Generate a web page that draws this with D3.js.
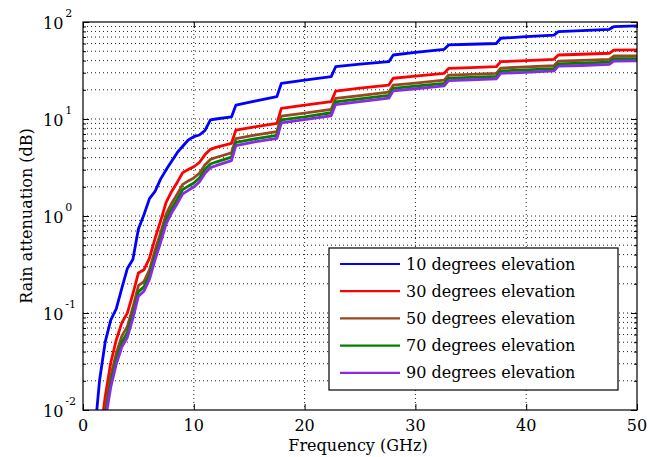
<!DOCTYPE html>
<html><head><meta charset="utf-8">
<script src="https://cdn.jsdelivr.net/npm/d3@7"></script>
<style>body{margin:0;background:#fff}</style>
</head><body>
<svg id="c" width="672" height="457"></svg>
<script>
// Frequency grid (GHz)
const freqs = [1.0,1.5,2.0,2.5,3.0,3.5,4.0,4.5,5.0,5.5,6.0,6.5,7.0,7.5,8.0,8.5,9.0,9.5,10.0,10.5,11.0,11.5,12.0,13.4,13.8,15.5,17.5,17.9,20,22.4,22.8,25,27.6,28.0,30,32.6,33.0,35,37.3,37.7,40,42.5,42.9,45,47.5,47.9,50];
// Rain attenuation (dB) per elevation angle
const elev10 = [0.005,0.0204,0.050,0.0845,0.110,0.179,0.287,0.356,0.736,1.03,1.51,1.79,2.4,2.99,3.67,4.5,5.24,6.08,6.58,6.84,7.6,9.8,10.0,10.5,13.9,15.3,17.0,23.3,25.2,27.3,34.6,36.8,39.0,45.7,48.5,52.3,58,59,60,68,70.5,73.4,79.4,81.5,84.1,89.5,91];
const elev30 = [0.002,0.005,0.0136,0.0305,0.0527,0.079,0.0996,0.157,0.259,0.279,0.368,0.586,0.885,1.38,1.79,2.22,2.80,3.01,3.22,3.56,4.27,4.87,5.10,5.62,7.70,8.3,9.03,12.9,13.9,15.1,19.4,20.8,22.4,26.3,27.7,29.6,33.3,33.9,34.6,39.0,40.0,41.2,45.7,46.5,47.6,51.4,51.6];
const elev50 = [0.0014,0.0036,0.0099,0.0222,0.0384,0.0577,0.0724,0.114,0.191,0.211,0.279,0.444,0.67,1.045,1.355,1.68,2.12,2.30,2.47,2.76,3.35,3.83,4.01,4.48,6.28,6.82,7.43,10.7,11.5,12.6,16.3,17.4,18.9,22.3,23.4,25.1,28.4,28.9,29.5,33.5,34.4,35.4,39.5,40.2,41.2,44.6,44.8];
const elev70 = [0.0013,0.0032,0.0086,0.0192,0.0333,0.050,0.0628,0.0989,0.166,0.186,0.245,0.391,0.59,0.92,1.19,1.48,1.87,2.03,2.19,2.46,3.01,3.44,3.60,4.04,5.73,6.24,6.79,9.79,10.5,11.6,15.0,16.1,17.5,20.7,21.8,23.3,26.4,26.9,27.5,31.3,32.1,33.0,37.0,37.6,38.5,41.8,42.0];
const elev90 = [0.0011,0.0028,0.0077,0.0171,0.0296,0.0446,0.056,0.0881,0.149,0.168,0.222,0.353,0.533,0.832,1.08,1.34,1.69,1.84,1.99,2.24,2.75,3.15,3.30,3.72,5.32,5.81,6.32,9.14,9.84,10.8,14.1,15.1,16.4,19.5,20.5,21.9,24.9,25.4,25.9,29.6,30.3,31.3,35.1,35.6,36.6,39.6,39.8];
const seriesNames = ["10 degrees elevation","30 degrees elevation","50 degrees elevation","70 degrees elevation","90 degrees elevation"];
const seriesValues = [elev10, elev30, elev50, elev70, elev90];
const seriesColors = ["#0000ff","#ff0000","#99471f","#008000","#8a2be2"];
const xTicks = [0,10,20,30,40,50];
const yTickExps = [-2,-1,0,1,2];
const xLabel = "Frequency (GHz)";
const yLabel = "Rain attenuation (dB)";

const FONT = "DejaVu Serif";
const svg = d3.select("#c");
const L = 83, R = 637, T = 22, B = 410;
const x = d3.scaleLinear().domain([0,50]).range([L,R]);
const y = d3.scaleLog().domain([0.01,100]).range([B,T]);

// minor/major y values
const yMajor = yTickExps.map(e => Math.pow(10,e));
const yMinor = [];
for (let e = -2; e < 2; e++) for (let m = 2; m <= 9; m++) yMinor.push(m*Math.pow(10,e));

const g = svg.append("g");
// grid
g.selectAll(".gy").data(yMajor.slice(1,-1).concat(yMinor)).enter().append("line")
  .attr("x1",L).attr("x2",R).attr("y1",d=>y(d)).attr("y2",d=>y(d))
  .attr("stroke","#222").attr("stroke-width",1).attr("stroke-dasharray","1,3");
g.selectAll(".gx").data(xTicks.slice(1,-1)).enter().append("line")
  .attr("y1",T).attr("y2",B).attr("x1",d=>x(d)).attr("x2",d=>x(d))
  .attr("stroke","#222").attr("stroke-width",1).attr("stroke-dasharray","1,3");

// axes ticks (inward)
svg.append("g").attr("transform",`translate(0,${B})`)
  .call(d3.axisTop(x).tickValues(xTicks).tickSize(6).tickFormat("")).call(s=>s.select(".domain").remove());
svg.append("g").attr("transform",`translate(0,${T})`)
  .call(d3.axisBottom(x).tickValues(xTicks).tickSize(6).tickFormat("")).call(s=>s.select(".domain").remove());
svg.append("g").attr("transform",`translate(${L},0)`)
  .call(d3.axisRight(y).tickValues(yMajor).tickSize(6).tickFormat("")).call(s=>s.select(".domain").remove());
svg.append("g").attr("transform",`translate(${L},0)`)
  .call(d3.axisRight(y).tickValues(yMinor).tickSize(3).tickFormat("")).call(s=>s.select(".domain").remove());
svg.append("g").attr("transform",`translate(${R},0)`)
  .call(d3.axisLeft(y).tickValues(yMajor).tickSize(6).tickFormat("")).call(s=>s.select(".domain").remove());
svg.append("g").attr("transform",`translate(${R},0)`)
  .call(d3.axisLeft(y).tickValues(yMinor).tickSize(3).tickFormat("")).call(s=>s.select(".domain").remove());

// clip
svg.append("clipPath").attr("id","clip").append("rect").attr("x",L).attr("y",T).attr("width",R-L).attr("height",B-T);

const line = d3.line().x((d,i)=>x(freqs[i])).y(d=>y(d));
const cg = svg.append("g").attr("clip-path","url(#clip)");
seriesValues.forEach((vals,i)=>{
  cg.append("path").datum(vals).attr("d",line).attr("fill","none")
    .attr("stroke",seriesColors[i]).attr("stroke-width",2.8).attr("stroke-linejoin","round");
});

// frame
svg.append("rect").attr("x",L).attr("y",T).attr("width",R-L).attr("height",B-T)
  .attr("fill","none").attr("stroke","#000").attr("stroke-width",1.2);

// x tick labels
svg.selectAll(".xl").data(xTicks).enter().append("text")
  .attr("x",d=>x(d)).attr("y",B+21).attr("text-anchor","middle")
  .attr("font-family",FONT).attr("font-size",16).attr("fill","#000").text(d=>d);
// y tick labels
yTickExps.forEach(e=>{
  const t = svg.append("text").attr("x",43).attr("y",y(Math.pow(10,e))+6.5)
    .attr("font-family",FONT).attr("font-size",16).attr("fill","#000");
  t.append("tspan").text("10");
  t.append("tspan").attr("dx",2).attr("dy",-12).attr("font-size",11).text(String(e).replace("-","-"));
});

// axis labels
svg.append("text").attr("x",(L+R)/2-2).attr("y",451).attr("text-anchor","middle")
  .attr("font-family",FONT).attr("font-size",16).text(xLabel);
svg.append("text").attr("transform",`translate(32,${(T+B)/2}) rotate(-90)`).attr("text-anchor","middle")
  .attr("font-family",FONT).attr("font-size",16).text(yLabel);

// legend
const lg = svg.append("g");
lg.append("rect").attr("x",329).attr("y",248).attr("width",289).attr("height",142)
  .attr("fill","#fff").attr("stroke","#000").attr("stroke-width",1.2);
seriesNames.forEach((n,i)=>{
  const yy = 264 + i*27.2;
  lg.append("line").attr("x1",340).attr("x2",400).attr("y1",yy).attr("y2",yy)
    .attr("stroke",seriesColors[i]).attr("stroke-width",2.2);
  lg.append("text").attr("x",406).attr("y",yy+5.5).attr("font-family",FONT).attr("font-size",16).text(n);
});
</script>
</body></html>
